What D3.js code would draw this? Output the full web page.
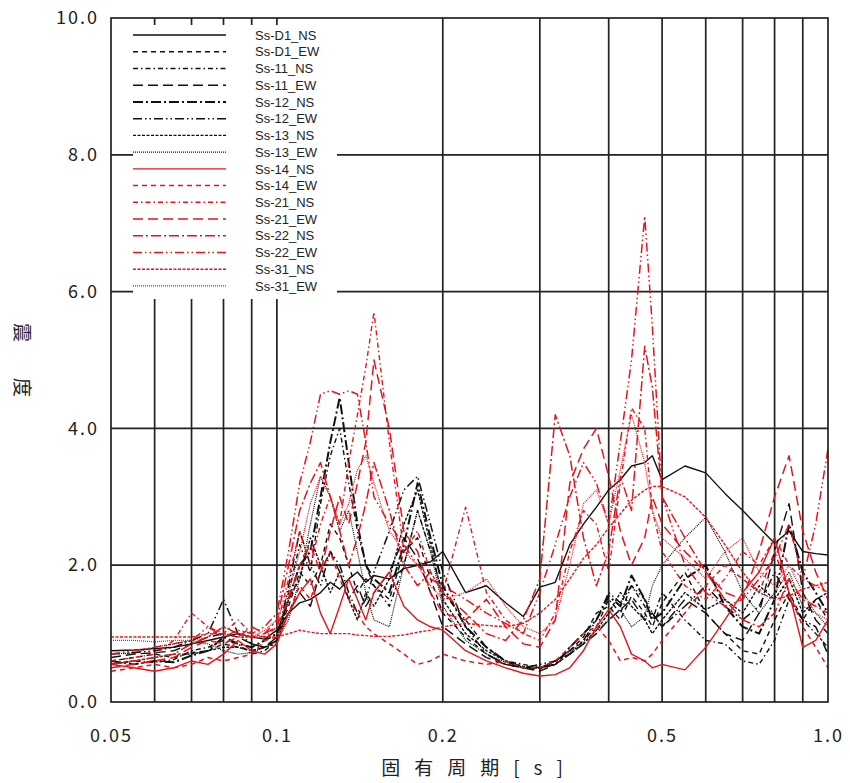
<!DOCTYPE html>
<html><head><meta charset="utf-8">
<script src="https://cdn.jsdelivr.net/npm/d3@7"></script>
<style>
html,body{margin:0;padding:0;background:#fff;}
svg{display:block;}
text{font-family:"Noto Sans CJK JP","Noto Sans",sans-serif;fill:#222;}
</style></head>
<body>
<svg id="chart" width="850" height="783"></svg>
<script>
// ---------- data ----------
const periods = [0.05,0.055,0.06,0.065,0.07,0.075,0.08,0.085,0.09,0.095,
  0.1,0.105,0.11,0.115,0.12,0.125,0.13,0.135,0.14,0.145,
  0.15,0.16,0.17,0.18,0.19,0.2,0.22,0.24,0.26,0.28,
  0.3,0.32,0.34,0.36,0.38,0.4,0.42,0.44,0.465,0.48,
  0.5,0.55,0.6,0.65,0.7,0.75,0.8,0.85,0.9,0.95,1.0];

const seriesNames = ["Ss-D1_NS","Ss-D1_EW","Ss-11_NS","Ss-11_EW","Ss-12_NS","Ss-12_EW","Ss-13_NS","Ss-13_EW",
  "Ss-14_NS","Ss-14_EW","Ss-21_NS","Ss-21_EW","Ss-22_NS","Ss-22_EW","Ss-31_NS","Ss-31_EW"];

const ssD1NS = [0.75,0.76,0.78,0.8,0.85,0.9,0.95,1.0,0.95,0.92,
  1.05,1.3,1.45,1.5,1.6,1.75,1.65,1.8,1.9,1.75,
  1.85,1.8,1.95,2.0,2.05,2.2,1.6,1.7,1.45,1.25,
  1.68,1.75,2.3,2.6,2.85,3.1,3.25,3.45,3.5,3.6,
  3.25,3.45,3.35,3.05,2.8,2.55,2.32,2.5,2.2,2.17,2.15];
const ssD1EW = [0.6,0.65,0.7,0.65,0.72,0.75,0.85,0.8,0.75,0.8,
  0.95,1.4,1.9,1.7,2.0,2.6,2.4,2.0,1.6,1.8,
  1.7,1.5,2.2,2.4,1.8,1.3,0.95,0.7,0.55,0.5,
  0.48,0.6,0.75,0.95,1.3,1.4,1.2,1.55,1.3,1.1,
  1.45,1.9,1.3,1.0,0.75,0.7,1.2,1.6,1.2,1.5,1.2];
const ss11NS = [0.55,0.6,0.58,0.62,0.75,0.8,0.9,0.85,0.7,0.75,
  0.9,1.6,2.3,1.9,2.9,3.6,4.0,3.2,2.5,2.0,
  1.7,1.4,2.0,2.8,2.2,1.6,1.2,0.8,0.6,0.55,
  0.5,0.55,0.7,0.9,1.1,1.5,1.3,1.7,1.4,1.2,
  1.6,1.2,0.9,0.85,0.6,0.55,0.9,1.5,1.2,1.0,0.8];
const ss11EW = [0.65,0.7,0.72,0.75,0.85,0.95,1.0,0.95,0.85,0.8,
  0.95,1.3,1.6,1.4,1.9,2.2,1.9,1.5,1.7,1.4,
  1.6,1.9,2.4,2.1,1.6,1.1,0.85,0.65,0.55,0.5,
  0.45,0.55,0.7,0.85,1.0,1.2,1.35,1.5,1.2,1.3,
  1.1,1.5,1.3,1.0,0.9,1.3,2.2,2.9,1.6,1.2,1.0];
const ss12NS = [0.6,0.55,0.6,0.58,0.68,0.75,0.95,0.85,0.8,0.9,
  1.0,1.5,2.0,2.2,3.0,3.8,4.45,3.5,2.6,2.0,
  1.8,1.6,2.3,3.2,2.4,1.7,1.1,0.8,0.6,0.5,
  0.5,0.55,0.8,1.0,1.2,1.55,1.4,1.85,1.5,1.2,
  1.3,1.8,2.0,1.4,1.1,1.0,1.5,2.6,1.9,1.6,1.3];
const ss12EW = [0.7,0.72,0.75,0.8,0.9,1.0,1.5,1.0,0.85,0.8,
  0.9,1.7,2.5,2.0,1.7,2.2,2.0,1.6,1.3,1.5,
  1.9,2.5,3.1,3.3,2.6,1.9,1.1,0.7,0.55,0.5,
  0.55,0.6,0.75,0.9,1.2,1.6,1.45,1.7,1.5,1.3,
  1.1,1.4,1.7,1.4,1.2,1.4,1.9,1.5,1.2,1.1,0.7];
const ss13NS = [0.55,0.6,0.65,0.7,0.7,0.75,0.8,0.8,0.75,0.8,
  0.85,1.5,1.8,2.4,2.0,1.6,1.9,1.5,1.2,1.6,
  1.4,1.8,2.6,3.1,2.3,1.5,1.0,0.75,0.6,0.52,
  0.5,0.6,0.7,0.85,1.05,1.3,1.6,1.4,1.2,1.0,
  1.2,1.6,1.35,1.5,1.3,1.7,1.5,1.8,1.3,1.5,1.6];
const ss13EW = [0.7,0.72,0.8,0.85,0.9,0.85,0.75,0.7,0.72,0.8,
  0.9,1.2,1.8,2.6,3.3,3.0,2.5,2.8,2.2,1.6,
  1.2,1.1,2.0,2.8,2.2,1.4,0.9,0.7,0.58,0.5,
  0.5,0.6,0.72,0.88,1.05,1.2,1.35,1.1,1.25,1.7,
  2.0,2.4,2.7,2.2,1.6,1.3,1.6,1.9,1.4,1.3,1.1];
const ss14NS = [0.55,0.5,0.45,0.5,0.6,0.55,0.7,0.9,0.75,0.7,
  0.85,1.3,1.6,1.8,1.3,1.0,1.4,1.8,1.5,1.2,
  1.6,1.9,1.4,1.2,1.1,1.05,0.75,0.6,0.5,0.42,
  0.38,0.4,0.5,0.75,1.1,1.35,1.1,0.7,0.6,0.5,
  0.55,0.47,0.8,1.2,1.6,1.9,2.4,1.6,0.8,0.9,1.2];
const ss14EW = [0.45,0.5,0.55,0.5,0.55,0.65,0.6,0.65,0.7,0.9,
  0.95,1.3,1.7,1.5,1.9,2.2,1.8,1.5,1.3,1.1,
  1.0,0.85,0.7,0.55,0.6,0.7,0.6,0.55,0.6,0.5,
  0.5,0.6,0.8,1.0,1.1,0.9,0.6,0.65,0.6,0.7,
  0.9,1.3,1.7,2.0,1.8,1.6,2.2,1.6,1.1,0.8,0.5];
const ss21NS = [0.6,0.65,0.7,0.9,1.3,1.1,1.0,1.2,1.0,0.95,
  1.1,1.8,2.5,2.0,2.6,3.0,2.6,3.5,4.2,4.9,
  5.7,3.8,2.2,2.5,1.9,1.6,2.85,1.6,1.2,1.0,
  0.9,1.3,2.2,2.8,2.6,1.9,3.2,4.3,4.0,2.8,
  2.2,1.7,1.5,1.8,2.2,2.0,2.4,2.0,1.8,1.7,1.6];
const ss21EW = [0.5,0.55,0.6,0.65,0.8,0.9,0.85,0.95,1.1,1.0,
  1.1,1.5,2.0,2.3,1.9,2.5,3.0,2.6,3.2,3.8,
  5.0,4.0,2.5,2.2,1.6,1.3,1.2,1.5,1.1,0.85,
  0.8,1.2,3.2,3.7,4.0,3.3,2.5,2.0,2.4,3.0,
  2.6,2.2,1.9,1.6,1.5,2.2,3.0,3.6,2.5,1.9,1.5];
const ss22NS = [0.55,0.6,0.65,0.7,0.85,0.95,1.1,1.0,0.95,1.0,
  1.2,2.0,2.8,3.2,3.5,3.0,2.5,2.0,2.4,2.9,
  3.5,2.8,2.0,1.7,1.9,1.6,1.3,1.0,0.9,1.2,
  1.8,4.2,3.6,2.4,1.7,2.2,3.3,2.8,5.2,4.6,
  3.0,2.4,1.9,1.5,1.2,1.1,1.3,1.8,1.5,1.4,1.3];
const ss22EW = [0.7,0.75,0.8,0.85,0.9,1.1,0.95,1.05,1.0,1.1,
  1.3,2.2,3.2,3.8,4.5,4.55,4.5,4.55,4.5,3.8,
  3.0,2.6,2.3,2.0,1.8,1.7,1.5,1.3,1.15,1.0,
  1.6,2.3,3.0,3.5,3.2,2.6,3.8,5.0,7.1,5.5,
  3.0,2.0,1.6,1.4,1.5,1.8,2.1,2.6,1.8,2.6,3.7];
const ss31NS = [0.95,0.95,0.95,0.95,0.95,1.0,1.0,0.95,0.95,0.95,
  0.95,1.0,1.05,1.02,1.0,1.0,1.0,1.0,0.98,0.97,
  0.96,0.96,0.98,1.02,1.05,1.1,1.15,1.12,1.1,1.15,
  1.3,1.5,1.8,2.1,2.3,2.55,2.75,2.95,3.1,3.15,
  3.15,3.0,2.7,2.3,1.9,1.6,1.5,1.55,1.65,1.7,1.75];
const ss31EW = [0.9,0.9,0.88,0.9,0.9,0.95,1.1,1.0,0.95,1.05,
  1.2,1.6,2.2,2.9,3.3,3.0,2.6,2.9,3.4,3.6,
  3.2,2.5,2.2,2.0,1.7,1.5,1.6,1.8,1.4,1.1,
  1.0,1.2,2.0,2.9,3.1,2.6,3.4,4.2,3.5,2.8,
  2.4,2.1,1.8,2.2,2.4,1.9,1.7,2.0,1.6,1.3,1.2];

const seriesValues = [ssD1NS,ssD1EW,ss11NS,ss11EW,ss12NS,ss12EW,ss13NS,ss13EW,
  ss14NS,ss14EW,ss21NS,ss21EW,ss22NS,ss22EW,ss31NS,ss31EW];

const xTickValues = [0.05,0.1,0.2,0.5,1.0];
const xTickLabels = ["0.05","0.1","0.2","0.5","1.0"];
const yTickValues = [0,2,4,6,8,10];
const yTickLabels = ["0.0","2.0","4.0","6.0","8.0","10.0"];
const xGridValues = [0.06,0.07,0.08,0.09,0.1,0.2,0.3,0.4,0.5,0.6,0.7,0.8,0.9];
const yGridValues = [2,4,6,8];

// ---------- styles ----------
const BLACK = "#111", RED = "#e8141c";
const styles = [
  {c:BLACK,d:null,w:1.4},
  {c:BLACK,d:"5,4",w:1.4},
  {c:BLACK,d:"5,3,1.5,3",w:1.4},
  {c:BLACK,d:"10,5",w:1.4},
  {c:BLACK,d:"10,3,2,3",w:2},
  {c:BLACK,d:"9,3,1.5,3,1.5,3",w:1.5},
  {c:BLACK,d:"3,1.5",w:1.4},
  {c:BLACK,d:"1,1",w:1.2},
  {c:RED,d:null,w:1.4},
  {c:RED,d:"5,4",w:1.5},
  {c:RED,d:"5,3,1.5,3",w:1.4},
  {c:RED,d:"10,5",w:1.5},
  {c:RED,d:"10,3,2,3",w:1.5},
  {c:RED,d:"9,3,1.5,3,1.5,3",w:1.5},
  {c:RED,d:"3,1.5",w:1.4},
  {c:RED,d:"1,1",w:1.2}
];

// ---------- chart ----------
const svg = d3.select("#chart");
const L=111, R=828, T=18, B=702;
const x = d3.scaleLog().domain([0.05,1]).range([L,R]);
const y = d3.scaleLinear().domain([0,10]).range([B,T]);

// grid
const grid = svg.append("g").attr("stroke","#222").attr("stroke-width",1.7);
grid.selectAll("line.vx").data(xGridValues).enter().append("line")
  .attr("x1",d=>x(d)).attr("x2",d=>x(d)).attr("y1",T).attr("y2",B);
grid.selectAll("line.hy").data(yGridValues).enter().append("line")
  .attr("x1",L).attr("x2",R).attr("y1",d=>y(d)).attr("y2",d=>y(d));

// clip
svg.append("clipPath").attr("id","clip").append("rect")
  .attr("x",L).attr("y",T).attr("width",R-L).attr("height",B-T);

const line = d3.line().x((d,i)=>x(periods[i])).y(d=>y(d));
const lines = svg.append("g").attr("clip-path","url(#clip)");
seriesValues.forEach((vals,k)=>{
  const s = styles[k];
  lines.append("path").datum(vals).attr("d",line)
    .attr("fill","none").attr("stroke",s.c).attr("stroke-width",s.w)
    .attr("stroke-dasharray",s.d).attr("stroke-linejoin","round");
});

// legend box
const lg = svg.append("g");
lg.append("rect").attr("x",133).attr("y",25).attr("width",204).attr("height",274).attr("fill","#fff");
seriesNames.forEach((n,k)=>{
  const s = styles[k];
  const yy = 35 + k*16.73;
  lg.append("line").attr("x1",133).attr("x2",226).attr("y1",yy).attr("y2",yy)
    .attr("stroke",s.c).attr("stroke-width",s.w).attr("stroke-dasharray",s.d);
  lg.append("text").attr("x",255).attr("y",yy).attr("dy","0.36em")
    .attr("font-size",13).attr("fill","#222")
    .style("font-family",'"Liberation Sans","DejaVu Sans",sans-serif').text(n);
});

// frame
svg.append("rect").attr("x",L).attr("y",T).attr("width",R-L).attr("height",B-T)
  .attr("fill","none").attr("stroke","#222").attr("stroke-width",1.7);

// axes
const xAxis = d3.axisBottom(x).tickValues(xTickValues).tickSize(0).tickPadding(27)
  .tickFormat((d,i)=>xTickLabels[i]);
const gx = svg.append("g").attr("transform",`translate(0,${B})`).call(xAxis);
gx.select(".domain").remove();
gx.selectAll("text").attr("font-size",18).attr("fill","#222").style("letter-spacing","2px")
  .style("font-family",'"Noto Sans CJK JP",sans-serif');

const yAxis = d3.axisLeft(y).tickValues(yTickValues).tickSize(0).tickPadding(12)
  .tickFormat((d,i)=>yTickLabels[i]);
const gy = svg.append("g").attr("transform",`translate(${L},0)`).call(yAxis);
gy.select(".domain").remove();
gy.selectAll("text").attr("font-size",18).attr("fill","#222").style("letter-spacing","2px")
  .style("font-family",'"Noto Sans CJK JP",sans-serif');

// axis titles
svg.append("text").attr("x",479).attr("y",775).attr("text-anchor","middle")
  .attr("font-size",19).style("letter-spacing","14px").text("固有周期[s]");
svg.append("text").attr("transform","translate(22,378) rotate(90)").attr("text-anchor","middle")
  .attr("dy","0.35em").attr("font-size",19).style("letter-spacing","36px").text("震度");
</script>
</body></html>
